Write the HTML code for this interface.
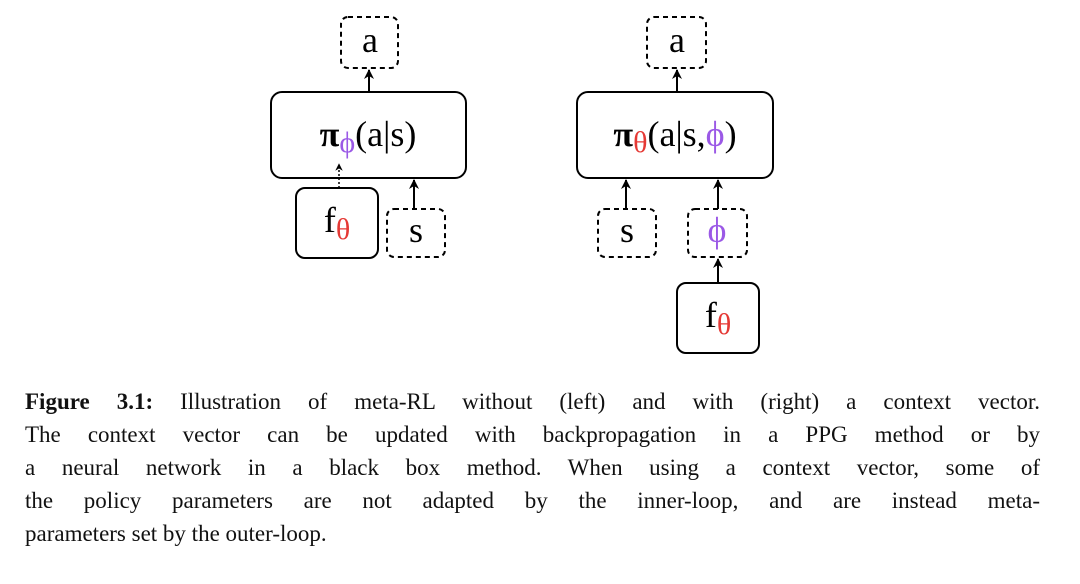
<!DOCTYPE html>
<html><head><meta charset="utf-8"><style>
html,body{margin:0;padding:0;background:#fff;width:1080px;height:584px;overflow:hidden}
svg{position:absolute;left:0;top:0}
.cap{position:absolute;left:25px;width:1015px;font-family:"Liberation Serif",serif;font-size:23px;color:#111;line-height:33px}
.l{text-align:justify;text-align-last:justify;height:33px;white-space:nowrap}
.l.last{text-align-last:left}
</style></head><body>
<svg width="1080" height="584" viewBox="0 0 1080 584">
<defs><marker id="ah" viewBox="0 0 10 10" refX="9" refY="5" markerWidth="5" markerHeight="5" orient="auto"><path d="M0,0 L10,5 L0,10 L3,5 Z" fill="#000"/></marker></defs>
<g fill="none" stroke="#000" stroke-width="2">
<rect x="341" y="17" width="57" height="51" rx="7" stroke-dasharray="5,4"/>
<rect x="271" y="92" width="195" height="86" rx="11"/>
<rect x="296" y="188" width="82" height="70" rx="9"/>
<rect x="387" y="209" width="58" height="48" rx="7" stroke-dasharray="5,4"/>
<line x1="369" y1="92" x2="369" y2="70" marker-end="url(#ah)"/>
<line x1="339" y1="188" x2="339" y2="164" stroke-dasharray="2,2" stroke-width="1.5" marker-end="url(#ah)"/>
<line x1="414" y1="209" x2="414" y2="180" marker-end="url(#ah)"/>
<rect x="647" y="17" width="59" height="51" rx="7" stroke-dasharray="5,4"/>
<rect x="577" y="92" width="196" height="86" rx="11"/>
<rect x="598" y="209" width="58" height="48" rx="7" stroke-dasharray="5,4"/>
<rect x="688" y="209" width="59" height="48" rx="7" stroke-dasharray="5,4"/>
<rect x="677" y="283" width="82" height="70" rx="9"/>
<line x1="677" y1="92" x2="677" y2="70" marker-end="url(#ah)"/>
<line x1="626" y1="209" x2="626" y2="180" marker-end="url(#ah)"/>
<line x1="718" y1="209" x2="718" y2="180" marker-end="url(#ah)"/>
<line x1="718" y1="283" x2="718" y2="259" marker-end="url(#ah)"/>
</g>
<g font-family="Liberation Serif, serif" font-size="36" fill="#000" text-anchor="middle">
<text x="370" y="52">a</text>
<text x="677" y="52">a</text>
<text x="368" y="146"><tspan font-weight="bold">π</tspan><tspan fill="#9b59e6" font-size="30" dy="6">ϕ</tspan><tspan dy="-6">(a|s)</tspan></text>
<text x="675" y="146"><tspan font-weight="bold">π</tspan><tspan fill="#e53935" font-size="30" dy="6">θ</tspan><tspan dy="-6">(a|s,</tspan><tspan fill="#9b59e6">ϕ</tspan><tspan>)</tspan></text>
<text x="337" y="232">f<tspan fill="#e53935" font-size="30" dy="7">θ</tspan></text>
<text x="416" y="242">s</text>
<text x="627" y="242">s</text>
<text x="717" y="242" fill="#9b59e6">ϕ</text>
<text x="718" y="327">f<tspan fill="#e53935" font-size="30" dy="7">θ</tspan></text>
</g>
</svg>
<div class="cap" style="top:385px">
<div class="l"><b>Figure 3.1:</b> Illustration of meta-RL without (left) and with (right) a context vector.</div>
<div class="l">The context vector can be updated with backpropagation in a PPG method or by</div>
<div class="l">a neural network in a black box method. When using a context vector, some of</div>
<div class="l">the policy parameters are not adapted by the inner-loop, and are instead meta-</div>
<div class="l last">parameters set by the outer-loop.</div>
</div>
</body></html>
